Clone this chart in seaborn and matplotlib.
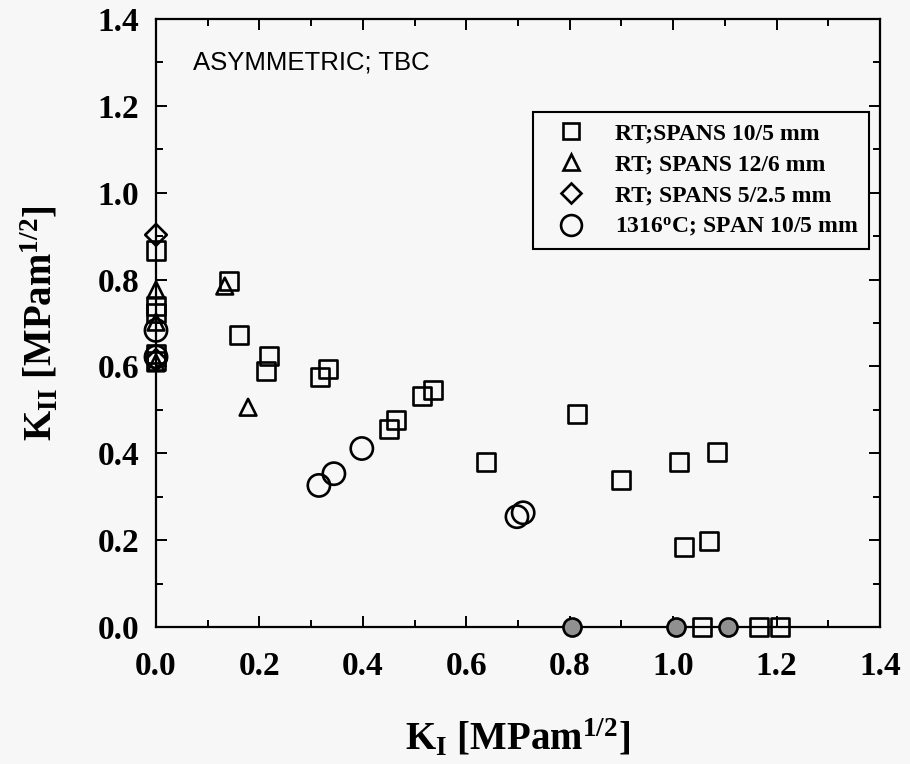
import matplotlib
matplotlib.use("Agg")
import matplotlib.pyplot as plt
from matplotlib.lines import Line2D
from matplotlib.ticker import MultipleLocator, FormatStrFormatter
import seaborn as sns

# ---------------- data ----------------
sq_x = [0.0, 0.0, 0.0, 0.0, 0.0, 0.141, 0.161, 0.219, 0.212, 0.317, 0.333,
        0.451, 0.464, 0.514, 0.536, 0.638, 0.815, 0.899, 1.011, 1.085,
        1.021, 1.070, 1.055, 1.166, 1.207]
sq_y = [0.867, 0.740, 0.722, 0.628, 0.612, 0.797, 0.672, 0.623, 0.589, 0.575, 0.594,
        0.455, 0.476, 0.531, 0.545, 0.379, 0.490, 0.339, 0.381, 0.402,
        0.185, 0.197, 0.0, 0.0, 0.0]

tri_x = [0.0, 0.0, 0.0, 0.133, 0.178]
tri_y = [0.776, 0.702, 0.608, 0.785, 0.506]

dia_x = [0.0, 0.0]
dia_y = [0.903, 0.615]

circ_x = [0.0, 0.0, 0.315, 0.344, 0.398, 0.698, 0.710]
circ_y = [0.683, 0.622, 0.326, 0.353, 0.411, 0.254, 0.263]

fcirc_x = [0.804, 1.005, 1.106]
fcirc_y = [0.0, 0.0, 0.0]

legend_labels = ["RT;SPANS 10/5 mm", "RT; SPANS 12/6 mm",
                 "RT; SPANS 5/2.5 mm", r"1316$^{\mathrm{o}}$C; SPAN 10/5 mm"]

# ---------------- style ----------------
sns.set_theme(style="ticks")
plt.rcParams['font.family'] = ['Liberation Serif', 'DejaVu Serif']
plt.rcParams['font.weight'] = 'bold'
plt.rcParams['mathtext.fontset'] = 'custom'
plt.rcParams['mathtext.rm'] = 'Liberation Serif:bold'
plt.rcParams['mathtext.bf'] = 'Liberation Serif:bold'
plt.rcParams['mathtext.it'] = 'Liberation Serif:bold'
for k in ['text.color', 'axes.labelcolor', 'xtick.color', 'ytick.color',
          'axes.edgecolor']:
    plt.rcParams[k] = 'black'

bg = '#f7f7f7'
fig = plt.figure(figsize=(9.10, 7.64), dpi=100, facecolor=bg)
ax = fig.add_axes([156/910, 1 - 627/764, (880-156)/910, (627-19)/764])
ax.set_facecolor(bg)

lw = 1.9
common = dict(ax=ax, facecolor='none', edgecolor='black', linewidth=lw,
              legend=False, zorder=3, clip_on=False)
sns.scatterplot(x=sq_x, y=sq_y, marker='s', s=13**2, **common)
sns.scatterplot(x=tri_x, y=tri_y, marker='^', s=12**2, **common)
sns.scatterplot(x=dia_x, y=dia_y, marker='D', s=11**2, **common)
sns.scatterplot(x=circ_x, y=circ_y, marker='o', s=16**2, **common)
sns.scatterplot(x=fcirc_x, y=fcirc_y, marker='o', s=13**2, ax=ax,
                facecolor='#909090', edgecolor='black', linewidth=lw,
                legend=False, zorder=4, clip_on=False)

ax.set_xlim(0, 1.4)
ax.set_ylim(0, 1.4)
ax.xaxis.set_major_locator(MultipleLocator(0.2))
ax.xaxis.set_minor_locator(MultipleLocator(0.1))
ax.yaxis.set_major_locator(MultipleLocator(0.2))
ax.yaxis.set_minor_locator(MultipleLocator(0.1))
ax.xaxis.set_major_formatter(FormatStrFormatter('%.1f'))
ax.yaxis.set_major_formatter(FormatStrFormatter('%.1f'))

for s in ax.spines.values():
    s.set_linewidth(1.6)
    s.set_color('black')
ax.tick_params(axis='both', which='both', direction='in', top=True, right=True,
               color='black', width=1.4)
ax.tick_params(axis='both', which='major', length=8, labelsize=24)
ax.tick_params(axis='both', which='minor', length=5)
ax.tick_params(axis='x', which='major', pad=17)
ax.tick_params(axis='y', which='major', pad=12)
for lab in ax.get_xticklabels() + ax.get_yticklabels():
    lab.set_fontweight('bold')

ax.set_xlabel(r'K$_{\mathrm{I}}$ [MPam$^{\mathrm{1/2}}$]', fontsize=28,
              fontweight='bold', labelpad=26)
ax.set_ylabel(r'K$_{\mathrm{II}}$ [MPam$^{\mathrm{1/2}}$]', fontsize=28,
              fontweight='bold', labelpad=27)

ax.text(0.051, 0.928, 'ASYMMETRIC; TBC', transform=ax.transAxes,
        fontfamily='Liberation Sans', fontweight='normal', fontsize=18.5,
        va='center', ha='left')

handles = [
    Line2D([], [], marker='s', ls='none', mfc='none', mec='black', mew=lw, ms=12),
    Line2D([], [], marker='^', ls='none', mfc='none', mec='black', mew=lw, ms=11),
    Line2D([], [], marker='D', ls='none', mfc='none', mec='black', mew=lw, ms=10),
    Line2D([], [], marker='o', ls='none', mfc='none', mec='black', mew=lw, ms=15),
]
leg = ax.legend(handles, legend_labels, loc='upper right',
                bbox_to_anchor=(0.985, 0.847), frameon=True, fancybox=False,
                edgecolor='black', facecolor=bg, framealpha=1,
                prop={'family': 'Liberation Serif', 'weight': 'bold', 'size': 17},
                handletextpad=0.7, labelspacing=0.4, borderpad=0.45,
                handlelength=2.3, borderaxespad=0)
leg.get_frame().set_linewidth(1.5)

fig.savefig('out.png', dpi=100, facecolor=bg)
